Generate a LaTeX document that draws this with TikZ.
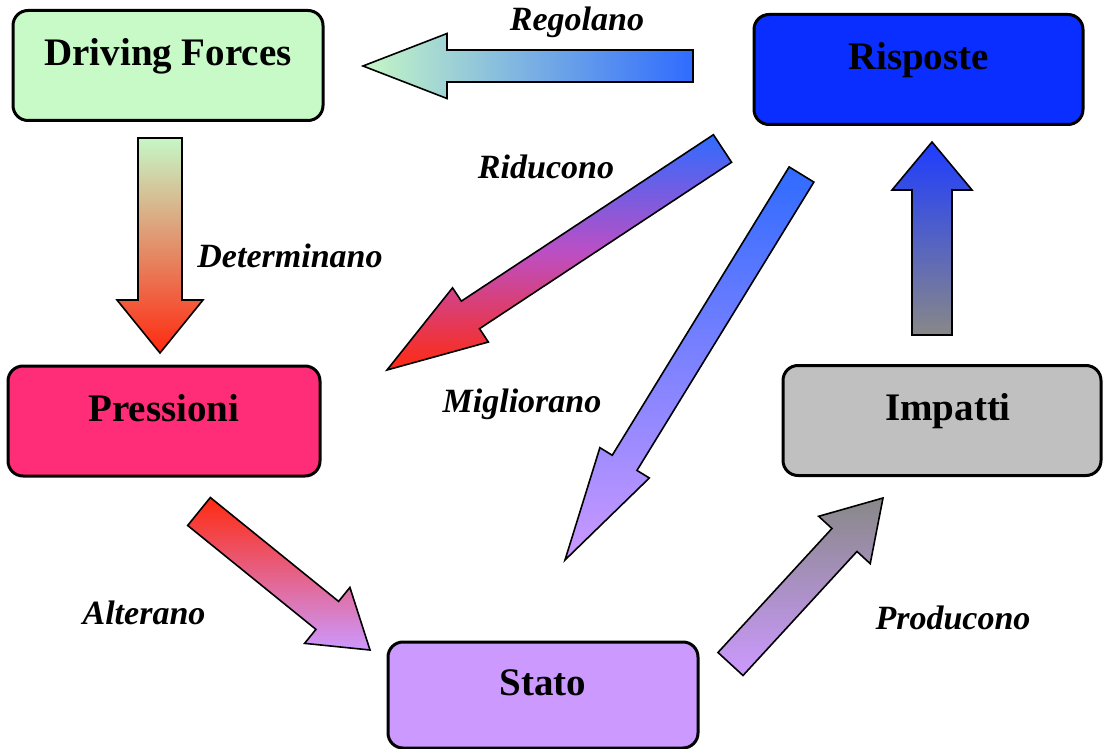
\documentclass[tikz,border=0pt]{standalone}
\usepackage{fontspec}
\setmainfont{Liberation Serif}
\usepackage{tikz}
\usetikzlibrary{calc}
\definecolor{dpsGreen}{HTML}{C8FAC8}
\definecolor{dpsBlue}{HTML}{0A2EFF}
\definecolor{dpsPink}{HTML}{FF2D78}
\definecolor{dpsGrey}{HTML}{C0C0C0}
\definecolor{dpsLilac}{HTML}{CC99FF}
\definecolor{arrGreen}{HTML}{C6F7C6}
\definecolor{arrRed}{HTML}{FF2A10}
\definecolor{arrBlue}{HTML}{2F6BFF}
\definecolor{arrDeep}{HTML}{1E3CFF}
\definecolor{arrGrey}{HTML}{888888}
\definecolor{arrMagenta}{HTML}{BC4FC4}
\tikzset{
  dpsbox/.style={rectangle,draw=black,line width=1.5pt,rounded corners=7.5pt,
    minimum width=155pt,minimum height=55pt,text height=14pt,text depth=14pt,
    font=\fontsize{19.5}{23}\selectfont\bfseries},
  dpslabel/.style={font=\fontsize{17}{20}\selectfont\bfseries\itshape},
  blockbody/.style={draw=black,line width=0.8pt}
}
% #1 shading, #2 tail, #3 tip, #4 half shaft, #5 half head, #6 head length
\newcommand{\blockarrow}[6]{%
  \coordinate (#3-hb) at ($(#3)!#6!(#2)$);
  \shadedraw[blockbody,#1] ($(#2)!#4!90:(#3)$) -- ($(#3-hb)!#4!90:(#3)$)
    -- ($(#3-hb)!#5!90:(#3)$) -- (#3) -- ($(#3-hb)!#5!-90:(#3)$)
    -- ($(#3-hb)!#4!-90:(#3)$) -- ($(#2)!#4!-90:(#3)$) -- cycle;
}

\begin{document}
\begin{tikzpicture}[x=0.5pt,y=-0.5pt]
  \useasboundingbox[fill=white] (0,0) rectangle (1104,749);
  \node[dpsbox, fill=dpsGreen] (df) at (168,65.5) {Driving Forces};
  \node[dpsbox, fill=dpsBlue, minimum width=164.5pt] (ris) at (918.5,69.5) {Risposte};
  \node[dpsbox, fill=dpsPink, minimum width=156pt] (pre) at (164,421) {Pressioni};
  \node[dpsbox, fill=dpsGrey, minimum width=159pt] (imp) at (942,420.5) {\hspace*{6pt}Impatti};
  \node[dpsbox, fill=dpsLilac, minimum height=53pt] (sta) at (543,695) {Stato};

  \coordinate (reg-a) at (693,66);
  \coordinate (reg-b) at (363,66);
  \coordinate (det-a) at (160,138);
  \coordinate (det-b) at (160,353);
  \coordinate (rid-a) at (722.5,148.5);
  \coordinate (rid-b) at (387,370);
  \coordinate (mig-a) at (801.5,174.5);
  \coordinate (mig-b) at (565,560);
  \coordinate (alt-a) at (199,511.5);
  \coordinate (alt-b) at (370,650);
  \coordinate (pro-a) at (730.5,664);
  \coordinate (pro-b) at (883,498);
  \coordinate (imp-a) at (932,335);
  \coordinate (imp-b) at (932,142);

  \blockarrow{left color=arrGreen,right color=arrBlue}{reg-a}{reg-b}{8pt}{16.25pt}{42pt}
  \blockarrow{top color=arrGreen,bottom color=arrRed}{det-a}{det-b}{11pt}{21.5pt}{26.5pt}
  \blockarrow{top color=arrBlue,bottom color=arrRed,middle color=arrMagenta}{rid-a}{rid-b}{8.25pt}{16.25pt}{50pt}
  \blockarrow{top color=arrBlue,bottom color=dpsLilac}{mig-a}{mig-b}{7.25pt}{14.5pt}{57pt}
  \blockarrow{top color=arrRed,bottom color=dpsLilac}{alt-a}{alt-b}{9pt}{18pt}{27.5pt}
  \blockarrow{top color=arrGrey,bottom color=dpsLilac}{pro-a}{pro-b}{8.5pt}{17.5pt}{28.5pt}
  \blockarrow{top color=arrDeep,bottom color=arrGrey}{imp-a}{imp-b}{10pt}{20pt}{24pt}

  \node[dpslabel] (lreg) at (577,22) {Regolano};
  \node[dpslabel] (lrid) at (546,167) {Riducono};
  \node[dpslabel] (ldet) at (290,256) {Determinano};
  \node[dpslabel] (lmig) at (522,404) {Migliorano};
  \node[dpslabel] (lalt) at (144,613) {Alterano};
  \node[dpslabel] (lpro) at (953,618) {Producono};
\end{tikzpicture}
\end{document}
